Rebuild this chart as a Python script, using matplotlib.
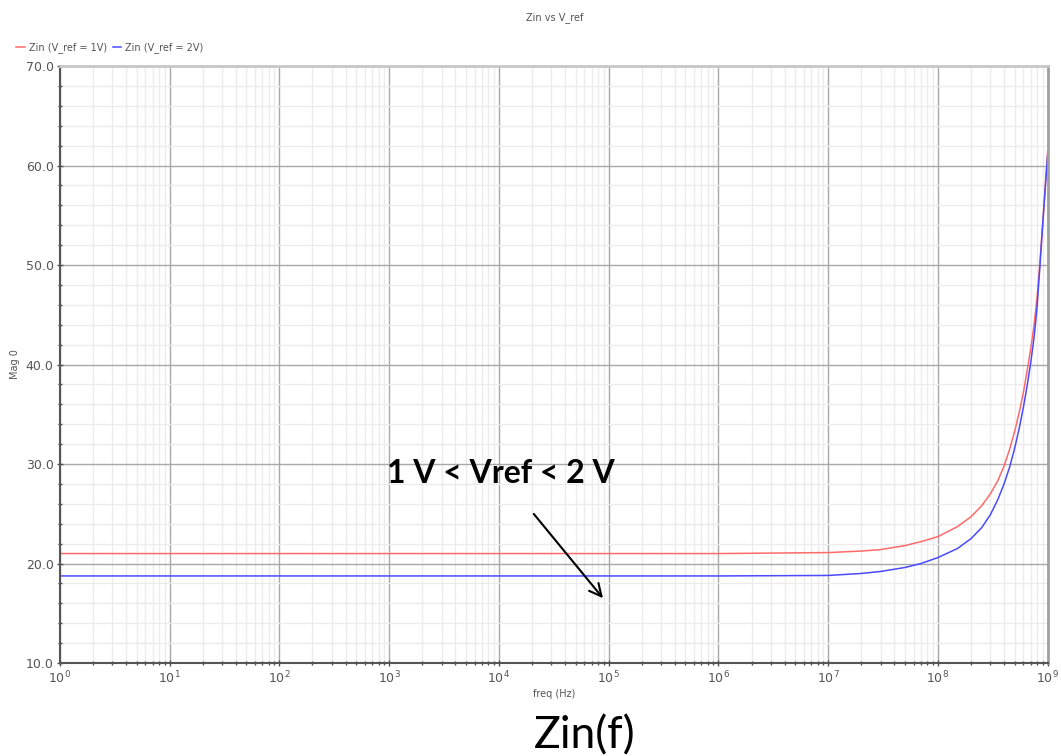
import matplotlib
matplotlib.use("Agg")
import matplotlib.pyplot as plt
from matplotlib.ticker import LogLocator, MultipleLocator, FormatStrFormatter, NullFormatter

# data
freq = [1, 1e1, 1e2, 1e3, 1e4, 1e5, 1e6, 1e7, 2e7, 3e7, 5e7, 7e7,
        1e8, 1.5e8, 2e8, 2.5e8, 3e8, 3.5e8, 4e8, 4.5e8, 5e8, 5.5e8,
        6e8, 6.5e8, 7e8, 7.5e8, 8e8, 8.5e8, 9e8, 9.5e8, 1e9]
zin_1v = [21.0, 21.0, 21.0, 21.0, 21.0, 21.0, 21.0, 21.1, 21.25, 21.4, 21.8, 22.2,
          22.7, 23.7, 24.7, 25.8, 27.0, 28.3, 29.8, 31.5, 33.3, 35.2,
          37.2, 39.4, 41.6, 43.9, 46.8, 50.3, 54.2, 58.0, 61.5]
zin_2v = [18.75, 18.75, 18.75, 18.75, 18.75, 18.75, 18.75, 18.8, 19.0, 19.2, 19.6, 20.0,
          20.6, 21.5, 22.5, 23.6, 24.9, 26.4, 28.0, 29.7, 31.6, 33.6,
          35.7, 37.9, 40.2, 42.7, 45.8, 50.0, 54.1, 57.8, 61.2]
labels = ["Zin (V_ref = 1V)", "Zin (V_ref = 2V)"]
colors = ["#ff6a6a", "#4a4aff"]

fig = plt.figure(figsize=(10.61, 7.56), dpi=100)
ax = fig.add_axes([0.0565, 0.123, 0.931, 0.7897])

ax.plot(freq, zin_1v, color=colors[0], lw=1.1, label=labels[0])
ax.plot(freq, zin_2v, color=colors[1], lw=1.1, label=labels[1])

ax.set_xscale("log")
ax.set_xlim(1, 1e9)
ax.set_ylim(10, 70)

ax.xaxis.set_major_locator(LogLocator(base=10, numticks=20))
ax.xaxis.set_minor_locator(LogLocator(base=10, subs=range(2, 10), numticks=100))
ax.xaxis.set_minor_formatter(NullFormatter())
ax.yaxis.set_major_locator(MultipleLocator(10))
ax.yaxis.set_minor_locator(MultipleLocator(2))
ax.yaxis.set_major_formatter(FormatStrFormatter("%.1f"))

ax.grid(which="major", color="#a8a8a8", lw=1.0)
ax.grid(which="minor", color="#ececec", lw=1.0)
ax.set_axisbelow(True)

ax.tick_params(which="major", direction="inout", length=5, width=1, colors="#505050",
               labelsize=9, labelcolor="#555555", pad=2)
ax.tick_params(which="minor", direction="inout", length=3, width=1, colors="#505050")

for side in ["left", "bottom"]:
    ax.spines[side].set_color("#555555")
    ax.spines[side].set_linewidth(1.5)
ax.spines["top"].set_color("#c8c8c8")
ax.spines["top"].set_linewidth(2)
ax.spines["right"].set_color("#a0a0a0")
ax.spines["right"].set_linewidth(2)

ax.set_xlabel("freq (Hz)", fontsize=7, color="#555555", labelpad=2)
ax.set_ylabel("Mag 0", fontsize=7, color="#555555", labelpad=4)
fig.text(0.523, 0.977, "Zin vs V_ref", ha="center", va="center", fontsize=7, color="#555555")

ax.legend(loc="lower left", bbox_to_anchor=(0.015, 0.93), bbox_transform=fig.transFigure,
          ncol=2, frameon=False, fontsize=7, handlelength=0.9, handletextpad=0.4,
          columnspacing=0.6, borderaxespad=0, borderpad=0, labelcolor="#555555")

ax.text(950, 29.0, "1 V < Vref < 2 V", fontsize=23, fontweight="bold", family="Lato",
        ha="left", va="center", color="black")
ax.annotate("", xy=(9.2e4, 16.3), xytext=(2.0e4, 25.2),
            arrowprops=dict(arrowstyle="->", color="black", lw=1.5, mutation_scale=22))

fig.text(0.551, 0.026, "Zin(f)", ha="center", va="center", fontsize=32, family="Lato")

fig.savefig("out.png", dpi=100)
